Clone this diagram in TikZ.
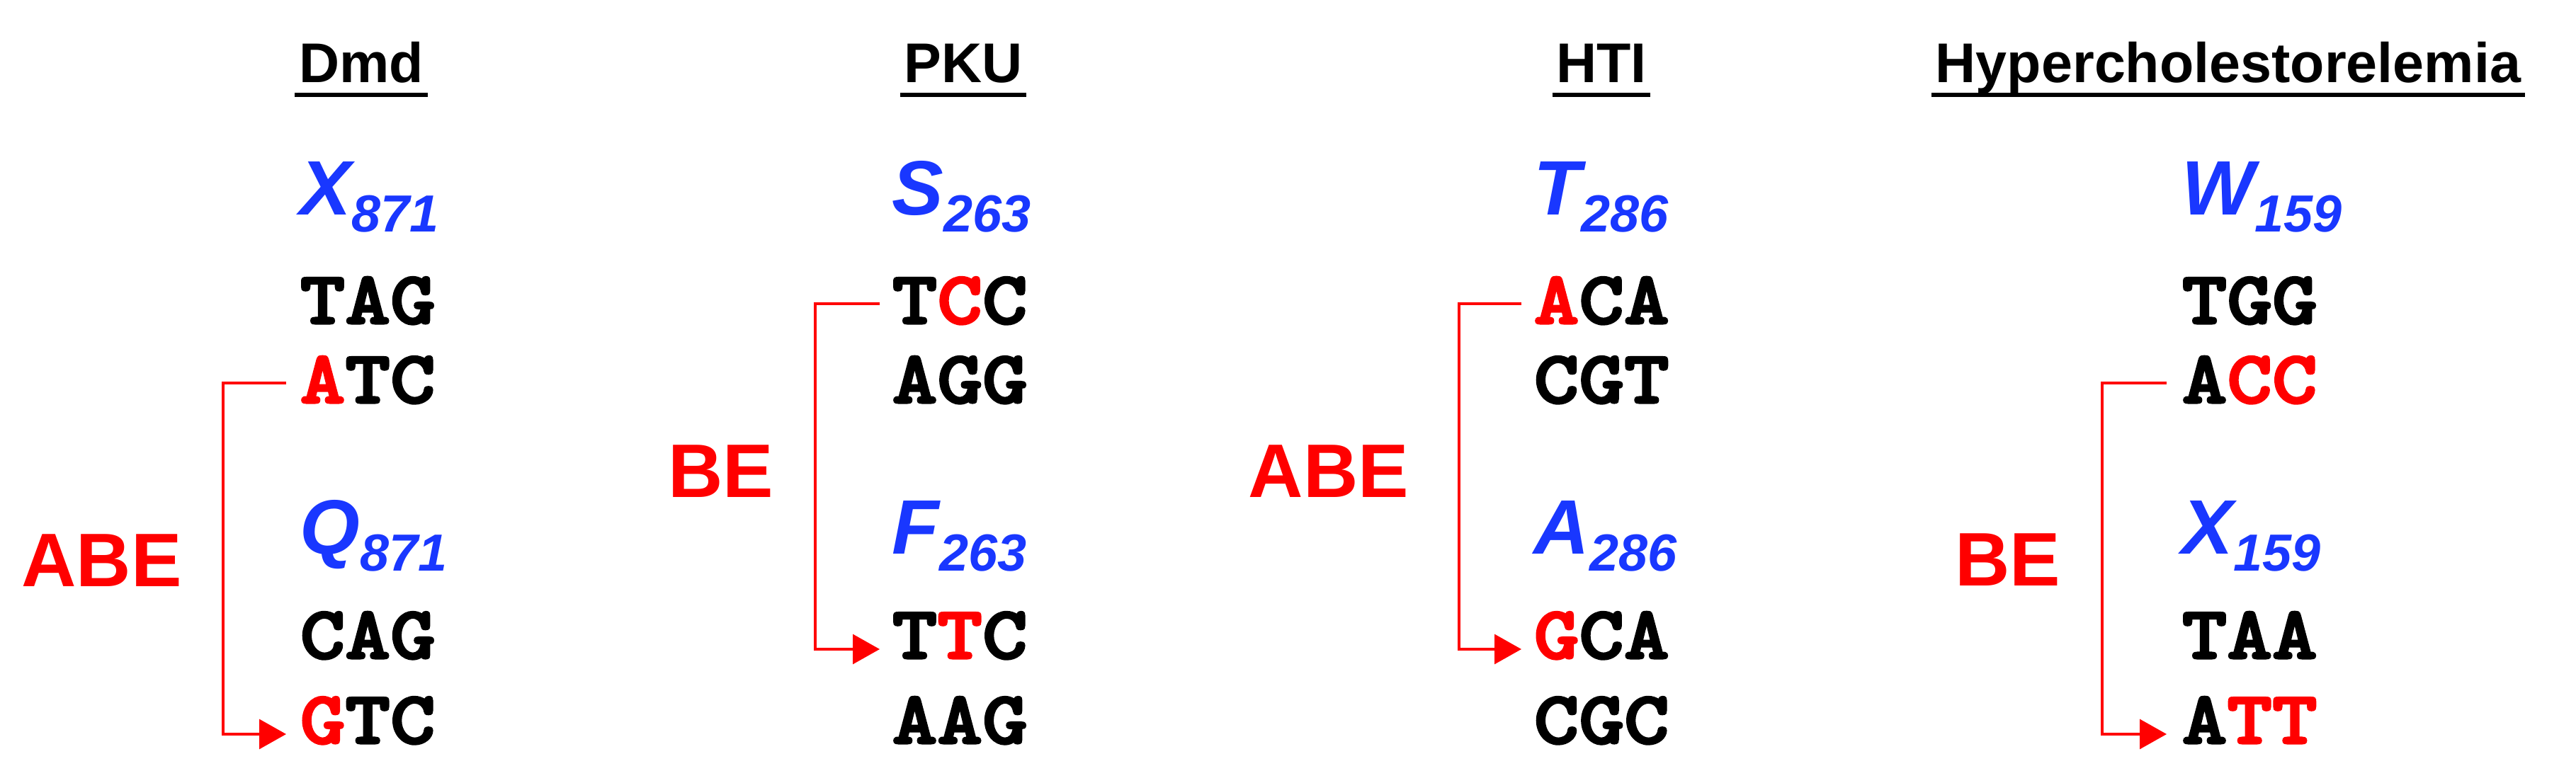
\documentclass[tikz,border=0pt]{standalone}
\usepackage{fontspec}
\setmainfont{Liberation Sans}
\newfontfamily\codonfont{lmmonolt10-bold.otf}[FakeStretch=1.15, FakeBold=3]
\usetikzlibrary{arrows.meta, positioning, calc}
\definecolor{aablue}{RGB}{25,55,255}
\definecolor{edred}{RGB}{255,0,0}
\newcommand{\mut}[1]{\textcolor{edred}{#1}}
\newcommand{\aminolabel}[2]{#1\raisebox{-0.24cm}{\fontsize{21}{21}\selectfont #2}}
\tikzset{
  disease/.style={font=\bfseries\fontsize{22.5}{27}\selectfont, anchor=base, inner sep=0pt},
  codon/.style={font=\codonfont\fontsize{30}{30}\selectfont, anchor=base west, inner sep=0pt},
  aminoacid/.style={font=\bfseries\itshape\fontsize{31}{31}\selectfont, text=aablue, anchor=base west, inner sep=0pt},
  editor/.style={font=\bfseries\fontsize{30.5}{30}\selectfont, text=edred, anchor=base, inner sep=0pt},
  bracket/.style={edred, line width=0.9pt, -{Triangle[length=3.8mm,width=4.2mm]}},
  uline/.style={line width=1.7pt}
}
\begin{document}
\begin{tikzpicture}
  \useasboundingbox (0,0) rectangle (36.37,11.06);
  % column positions of the codons
  \pgfmathsetmacro{\xDmd}{4.23}
  \pgfmathsetmacro{\xPku}{12.59}
  \pgfmathsetmacro{\xHti}{21.65}
  \pgfmathsetmacro{\xHyp}{30.80}

  % disease titles
  \node[disease] (dmdTitle) at (5.10,9.89) {Dmd};
  \node[disease] (pkuTitle) at (13.60,9.89) {PKU};
  \node[disease] (htiTitle) at (22.61,9.89) {HTI};
  \node[disease] (hypTitle) at (31.46,9.89) {Hypercholestorelemia};
  \foreach \t in {dmdTitle,pkuTitle,htiTitle,hypTitle}
    \draw[uline] ([shift={(-0.05,-0.17)}]\t.base west) -- ([shift={(0.05,-0.17)}]\t.base east);

  % Dmd
  \node[aminoacid] (dmdAA1) at (\xDmd,8.02) {\aminolabel{X}{871}};
  \node[codon] (dmd1) at (\xDmd,6.49) {TAG};
  \node[codon] (dmd2) at (\xDmd,5.37) {\mut{A}TC};
  \node[aminoacid] (dmdAA2) at (\xDmd,3.23) {\aminolabel{Q}{871}};
  \node[codon] (dmd3) at (\xDmd,1.76) {CAG};
  \node[codon] (dmd4) at (\xDmd,0.56) {\mut{G}TC};
  \node[editor] (dmdEd) at (1.435,2.77) {ABE};
  \draw[bracket] ($(dmd2.base west)+(-0.19,0.28)$) -- ++(-0.89,0) |- ($(dmd4.base west)+(-0.19,0.13)$);

  % PKU
  \node[aminoacid] (pkuAA1) at (\xPku,8.02) {\aminolabel{S}{263}};
  \node[codon] (pku1) at (\xPku,6.49) {T\mut{C}C};
  \node[codon] (pku2) at (\xPku,5.37) {AGG};
  \node[aminoacid] (pkuAA2) at (\xPku,3.23) {\aminolabel{F}{263}};
  \node[codon] (pku3) at (\xPku,1.76) {T\mut{T}C};
  \node[codon] (pku4) at (\xPku,0.56) {AAG};
  \node[editor] (pkuEd) at (10.18,4.03) {BE};
  \draw[bracket] ($(pku1.base west)+(-0.17,0.28)$) -- ++(-0.91,0) |- ($(pku3.base west)+(-0.17,0.13)$);

  % HTI
  \node[aminoacid] (htiAA1) at (\xHti,8.02) {\aminolabel{T}{286}};
  \node[codon] (hti1) at (\xHti,6.49) {\mut{A}CA};
  \node[codon] (hti2) at (\xHti,5.37) {CGT};
  \node[aminoacid] (htiAA2) at (\xHti,3.23) {\aminolabel{A}{286}};
  \node[codon] (hti3) at (\xHti,1.76) {\mut{G}CA};
  \node[codon] (hti4) at (\xHti,0.56) {CGC};
  \node[editor] (htiEd) at (18.76,4.03) {ABE};
  \draw[bracket] ($(hti1.base west)+(-0.17,0.28)$) -- ++(-0.88,0) |- ($(hti3.base west)+(-0.17,0.13)$);

  % Hypercholestorelemia
  \node[aminoacid] (hypAA1) at (\xHyp,8.02) {\aminolabel{W}{159}};
  \node[codon] (hyp1) at (\xHyp,6.49) {TGG};
  \node[codon] (hyp2) at (\xHyp,5.37) {A\mut{CC}};
  \node[aminoacid] (hypAA2) at (\xHyp,3.23) {\aminolabel{X}{159}};
  \node[codon] (hyp3) at (\xHyp,1.76) {TAA};
  \node[codon] (hyp4) at (\xHyp,0.56) {A\mut{TT}};
  \node[editor] (hypEd) at (28.35,2.78) {BE};
  \draw[bracket] ($(hyp2.base west)+(-0.21,0.28)$) -- ++(-0.91,0) |- ($(hyp4.base west)+(-0.21,0.13)$);
\end{tikzpicture}
\end{document}
